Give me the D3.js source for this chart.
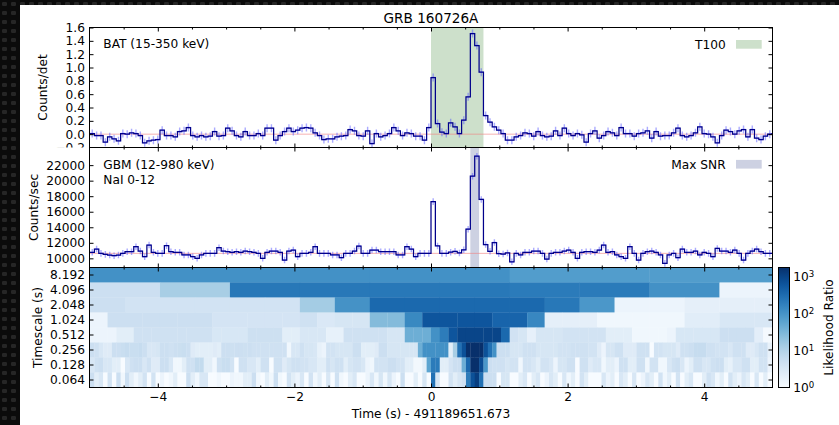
<!DOCTYPE html>
<html>
<head>
<meta charset="utf-8">
<script src="https://cdn.jsdelivr.net/npm/d3@7"></script>
<style>
  html, body { margin: 0; padding: 0; background: #fff; }
  svg { display: block; }
  text { font-family: "DejaVu Sans", sans-serif; }
</style>
</head>
<body>
<svg id="fig" width="839" height="425"></svg>
<script>
// ---------------- light curves (0.064 s bins, bin k starts at k*0.064 s) ----------------
const binWidth = 0.064;
const firstBin = -79;

// BAT 15-350 keV, counts/det
const batCounts = [
  0.00, 0.01, -0.02, -0.02, -0.12, -0.04, -0.07, -0.10, 0.01, 0.00,
  0.02, 0.01, -0.02, -0.13, -0.10, -0.09, -0.08, 0.06, -0.02, -0.02,
  -0.04, 0.04, 0.05, 0.10, -0.02, -0.04, -0.02, -0.04, -0.03, 0.04,
  -0.03, -0.02, 0.09, 0.05, -0.02, -0.04, 0.04, -0.02, -0.02, 0.01,
  -0.02, 0.09, 0.09, -0.09, -0.02, 0.04, 0.09, 0.04, 0.06, 0.09,
  0.10, 0.09, 0.02, -0.02, -0.08, -0.07, -0.07, -0.04, -0.03, -0.02,
  0.07, 0.05, -0.02, -0.03, 0.05, -0.14, 0.01, -0.04, -0.02, 0.01,
  0.10, 0.05, -0.02, 0.02, 0.01, -0.03, -0.03, -0.09, 0.10, 0.85,
  0.16, 0.03, 0.01, 0.17, 0.11, 0.01, 0.21, 0.56, 1.51, 1.33,
  0.93, 0.28, 0.18, 0.11, 0.06, 0.01, -0.09, -0.09, -0.04, -0.02,
  0.02, 0.01, -0.03, 0.04, -0.02, -0.04, -0.03, 0.05, -0.02, 0.09,
  0.01, -0.02, 0.01, -0.01, -0.12, 0.01, 0.05, -0.06, -0.02, 0.04,
  0.02, -0.02, 0.10, 0.01, 0.01, -0.03, 0.01, 0.02, 0.05, -0.06,
  0.04, -0.03, -0.02, -0.02, 0.02, 0.09, -0.02, -0.04, -0.02, 0.02,
  0.11, 0.01, 0.00, -0.04, -0.13, -0.02, 0.06, 0.04, 0.00, 0.05,
  0.07, -0.04, 0.07, -0.06, -0.08, -0.03, 0.00, 0.01
];
const batError = 0.06;
const batBackground = 0.0;

// GBM NaI 0-12, 12-980 keV, counts/sec
const gbmCounts = [
  10770, 10770, 11200, 10640, 10510, 10420, 10340, 10420, 10640, 10850,
  10850, 11500, 10940, 10210, 11710, 10770, 10640, 10640, 11630, 10850,
  10770, 10770, 10430, 10430, 10210, 10000, 10430, 10640, 10640, 10640,
  11370, 10940, 10850, 10770, 10850, 10770, 10940, 10850, 10770, 10640,
  10000, 10770, 10940, 10940, 10770, 9780, 10940, 11070, 10210, 10640,
  10640, 10770, 11500, 10640, 10640, 10640, 10430, 10430, 10080, 10640,
  10640, 10940, 11580, 10640, 10640, 11070, 11070, 10850, 10850, 10850,
  10850, 10430, 10430, 11500, 11200, 10210, 10640, 10640, 10640, 17300,
  11600, 10640, 10640, 10790, 10900, 10700, 11100, 13750, 20580, 23150,
  17580, 11780, 10900, 12030, 10600, 10550, 10700, 9560, 10640, 10430,
  10770, 10770, 10940, 10940, 10640, 9910, 10640, 10770, 10770, 10940,
  11070, 10770, 10000, 10770, 10850, 10850, 10770, 11070, 11710, 10770,
  10850, 10430, 10210, 10000, 11500, 10640, 9780, 10640, 10850, 10940,
  10770, 10430, 9350, 10430, 10640, 10080, 11200, 10770, 10770, 10940,
  10430, 10770, 10640, 10210, 11280, 10940, 10940, 10770, 11070, 10640,
  9780, 10640, 10940, 11200, 10850, 10640, 10640, 10640
];
const gbmError = 420;
const gbmBackground = 10640;

const t100Interval = [0.0, 0.768];
const maxSnrInterval = [0.576, 0.704];

// ---------------- likelihood-ratio map ----------------
const timescales = ["8.192", "4.096", "2.048", "1.024", "0.512", "0.256", "0.128", "0.064"];
const heatSteps = [2.048, 1.024, 0.512, 0.256, 0.128, 0.064, 0.064, 0.064];
const heatStart = -4.992;

const lr8192 = [110, 110, 110, 75, 75];
const lr4096 = [5, 13, 230, 230, 230, 230, 210, 210, 108, 1.5];
const lr2048 = [5, 4, 4, 4, 4, 4, 14, 105, 350, 350, 350, 350, 350, 230, 90, 1.5, 1.5, 2.0, 2.0, 2.0];
const lr1024 = [
  1.5, 5, 5, 5, 5, 5, 5, 3.8, 3.8, 3.8, 3.8, 3.8, 4.5, 3, 3.5, 3.5, 27, 27, 140, 620,
  620, 620, 620, 400, 400, 145, 2, 2, 2, 1.3, 1.3, 1.3, 1.3, 1.3, 2.3, 2.3, 3.2, 3.2, 3.2, 3.2
];
const lr512 = [
  1.5, 1.5, 1.5, 2.2, 2.2, 4.5, 4.5, 4.5, 4.5, 4.5, 4.5, 4.5, 4.5, 4.5, 3.3, 3.3, 3.3, 3.3, 4.8, 4.8,
  4.8, 4.8, 2.2, 2.2, 3.2, 3.2, 3.2, 1.8, 1.8, 4.5, 4.5, 4.5, 4.5, 4.5, 3.5, 3.5, 42, 42, 42, 108,
  200, 620, 1000, 1000, 1000, 1000, 1000, 350, 4.2, 3.5, 1.9, 3.5, 3.5, 3.5, 4, 4, 4, 4, 4, 2.2,
  2.2, 2.2, 1.3, 1.3, 1.3, 1.3, 1.5, 3.3, 3.3, 3.3, 3.3, 3.3, 5, 5, 5, 5, 2.1, 1.1, 1.1
];
const lr256 = [
  5, 4.5, 3.2, 2.5, 2.5, 5, 5, 5.5, 6, 5.5,
  5.5, 6, 5, 3.2, 3.2, 3.5, 5, 5, 4.5, 5,
  5.2, 5.5, 5, 2.5, 2.2, 2.2, 2.2, 2.2, 2.5, 2.2,
  5, 5, 4.8, 5, 5, 4.8, 5, 4.5, 4.5, 4.5,
  4.5, 4.5, 4.5, 4.5, 4.5, 1.3, 3.2, 3.2, 4.5, 3.5,
  3.5, 3.2, 1.8, 1.5, 4, 4, 3.5, 3.5, 3.5, 3.5,
  5, 5, 2.2, 2.2, 2.2, 2.5, 5, 5, 3.5, 3.5,
  3.5, 3.5, 3.5, 3.5, 3.5, 42, 108, 108, 108, 108,
  108, 108, 2.2, 13, 275, 700, 1800, 1800, 1800, 1800,
  700, 275, 108, 5, 5, 5, 3.5, 3.5, 3.5, 4.5,
  4.5, 4.5, 3.5, 3.5, 3.5, 3.5, 3.5, 4, 4, 4,
  4.5, 4.5, 4.5, 4.5, 4, 4, 2.5, 1.5, 3.5, 3.5,
  4.5, 4.5, 2.5, 2.5, 2.5, 4.5, 4.5, 4.5, 1.0, 4,
  4, 3.5, 3.5, 3.5, 2.5, 4.5, 4.5, 5, 6, 6,
  6, 4.5, 4.5, 4, 4, 4, 3.2, 4.5, 4.5, 4.5,
  2.5, 2.5, 3.2, 4.5, 4.5, 1.8, 3.2
];
const lr128 = [
  3.2, 4.5, 5, 3.2, 3.2, 2.2, 2.2, 1.0, 3.2, 4.5,
  5, 5, 3.2, 4.5, 2.5, 2.5, 5, 5, 3.2, 1.3,
  1.3, 2.2, 4.5, 4.5, 6.5, 6.5, 2.2, 2.2, 1.3, 4.5,
  5.5, 5.5, 4, 1.0, 4.5, 4.5, 3.2, 3.2, 2.2, 4.5,
  4.5, 1.0, 4.5, 4.5, 2.5, 3.5, 4.5, 4.5, 4, 4,
  3.2, 3.2, 2.2, 2.2, 4.5, 3.5, 4.5, 4.5, 2.2, 3.5,
  4, 4, 3.2, 1.5, 1.3, 4, 4, 4, 5, 5,
  4, 4, 2.2, 2.2, 1.2, 1.2, 2.2, 60, 210, 210,
  2.2, 2.2, 3.8, 5, 5, 42, 350, 1800, 1800, 800,
  90, 5, 4.5, 4.5, 4.5, 3.5, 4, 4, 1.3, 4,
  4, 3.2, 2.2, 4, 4, 3.2, 1.5, 3.5, 3.5, 4.5,
  4.5, 1.0, 4.5, 4.5, 2.5, 3.2, 3.2, 1.3, 2.2, 2.2,
  1.5, 4.5, 4.5, 2.2, 2.2, 4.5, 4.5, 1.3, 4, 4,
  1.3, 1.3, 3.2, 4.5, 5, 3.2, 1.5, 2.2, 4.5, 4.5,
  3.2, 3.2, 4.5, 5, 5, 2.2, 1.8, 3.2, 3.2, 4.5,
  4.5, 2.2, 2.2, 4, 4, 1.5, 3.2
];
const lr064 = [
  5, 2.2, 3.2, 1.0, 4, 1.0, 5, 1.3, 5, 2.2,
  1.3, 2.2, 4, 1.0, 4, 1.0, 1.5, 1.0, 1.3, 2.2,
  1.0, 1.0, 5, 2.2, 1.3, 3.2, 3.2, 1.0, 1.0, 1.3,
  1.0, 1.0, 1.5, 1.3, 1.3, 2.2, 2.2, 5, 1.3, 1.0,
  2.2, 1.3, 5, 1.3, 1.0, 4, 2.2, 1.5, 3.2, 1.0,
  4, 1.3, 2.2, 1.0, 3.2, 1.0, 4.5, 1.3, 1.0, 2.2,
  3.2, 1.0, 1.0, 1.5, 3.2, 1.3, 3.5, 1.3, 3.5, 1.5,
  1.0, 5, 1.0, 1.0, 2.2, 1.0, 3.5, 1.0, 275, 3.5,
  1.0, 1.0, 4, 2.2, 3.5, 4.5, 200, 700, 1200, 275,
  5, 5, 5, 1.0, 3.5, 3.5, 1.0, 1.0, 2.2, 3.2,
  1.0, 2.2, 3.2, 1.0, 1.5, 3.2, 2.2, 1.0, 3.2, 1.3,
  2.2, 1.0, 4, 2.2, 1.0, 1.0, 1.0, 3.2, 1.5, 2.2,
  1.0, 3.2, 2.2, 1.0, 3.2, 1.0, 1.5, 3.2, 2.2, 1.0,
  4, 1.3, 2.2, 1.0, 4, 1.0, 2.2, 3.2, 1.0, 1.0,
  2.2, 4.5, 3.2, 1.3, 2.2, 1.0, 4, 2.2, 1.5, 3.2,
  2.2, 1.0, 3.2, 1.0, 2.2, 1.0, 1.3
];
const lrRows = [lr8192, lr4096, lr2048, lr1024, lr512, lr256, lr128, lr064];
const lrMax = 1800;

const batTicks = [-0.2, 0.0, 0.2, 0.4, 0.6, 0.8, 1.0, 1.2, 1.4, 1.6];
const gbmTicks = [10000, 12000, 14000, 16000, 18000, 20000, 22000];
const timeMajorTicks = [-4, -2, 0, 2, 4];
const timeMinorTicks = [-4.5, -3.5, -3, -2.5, -1.5, -1, -0.5, 0.5, 1, 1.5, 2.5, 3, 3.5, 4.5];
const colorbarTicks = [1, 10, 100, 1000];

// ---------------- layout ----------------
const W = 839, H = 425;
const L = 89.5, R = 772.5;
const batBox = [27.5, 147.5], gbmBox = [147.5, 267.5], mapBox = [267.5, 387.5];
const FS = 12.2;

const svg = d3.select("#fig");
const defs = svg.append("defs");

// dark dotted frame around the white figure
const pat = defs.append("pattern").attr("id", "frameDots")
  .attr("width", 9).attr("height", 9).attr("patternUnits", "userSpaceOnUse");
pat.append("rect").attr("width", 9).attr("height", 9).attr("fill", "#0b0b0b");
pat.append("rect").attr("x", 2).attr("y", 2).attr("width", 5).attr("height", 4)
  .attr("rx", 1.2).attr("fill", "#262626");
svg.append("rect").attr("width", W).attr("height", H).attr("fill", "url(#frameDots)");
svg.append("rect").attr("x", 20).attr("y", 5).attr("width", W - 20).attr("height", H - 5).attr("fill", "#fff");

const x = d3.scaleLinear().domain([-5, 5]).range([L, R]);
const yBat = d3.scaleLinear().domain([-0.2, 1.6]).range([batBox[1], batBox[0]]);
const yGbm = d3.scaleLinear().domain([8820, 24270]).range([gbmBox[1], gbmBox[0]]);
const yMap = d3.scaleBand().domain(timescales).range(mapBox);
const color = d3.scaleSequentialLog(d3.interpolateBlues).domain([1, lrMax]);

function clipRect(id, y0, y1) {
  defs.append("clipPath").attr("id", id).append("rect")
    .attr("x", L).attr("y", y0).attr("width", R - L).attr("height", y1 - y0);
  return `url(#${id})`;
}

function styleAxis(g) {
  g.select(".domain").remove();
  g.attr("font-family", null).attr("font-size", null);
  g.selectAll("text").attr("font-size", FS).attr("fill", "#000");
  g.selectAll("line").attr("stroke", "#000").attr("stroke-width", 1);
}

function timeTicks(g, box, withLabels) {
  const bottomMajor = d3.axisBottom(x).tickValues(timeMajorTicks).tickSize(-4)
    .tickPadding(5).tickFormat(withLabels ? d3.format("d") : "");
  g.append("g").attr("transform", `translate(0,${box[1]})`).call(bottomMajor).call(styleAxis);
  g.append("g").attr("transform", `translate(0,${box[1]})`)
    .call(d3.axisBottom(x).tickValues(timeMinorTicks).tickSize(-2).tickFormat("")).call(styleAxis);
  g.append("g").attr("transform", `translate(0,${box[0]})`)
    .call(d3.axisTop(x).tickValues(timeMajorTicks).tickSize(-4).tickFormat("")).call(styleAxis);
  g.append("g").attr("transform", `translate(0,${box[0]})`)
    .call(d3.axisTop(x).tickValues(timeMinorTicks).tickSize(-2).tickFormat("")).call(styleAxis);
}

function valueTicks(g, scale, values, fmt) {
  g.append("g").attr("transform", `translate(${L},0)`)
    .call(d3.axisLeft(scale).tickValues(values).tickSize(-4).tickPadding(4.5).tickFormat(fmt))
    .call(styleAxis);
  g.append("g").attr("transform", `translate(${R},0)`)
    .call(d3.axisRight(scale).tickValues(values).tickSize(-4).tickFormat(""))
    .call(styleAxis);
}

function frame(box) {
  svg.append("rect").attr("x", L).attr("y", box[0]).attr("width", R - L).attr("height", box[1] - box[0])
    .attr("fill", "none").attr("stroke", "#000").attr("stroke-width", 1);
}

function lightCurve(g, counts, err, bg, y) {
  const start = i => (firstBin + i) * binWidth;
  const pts = counts.map((c, i) => [start(i), c]);
  pts.push([start(counts.length), counts[counts.length - 1]]);

  g.append("line").attr("x1", L).attr("x2", R).attr("y1", y(bg)).attr("y2", y(bg))
    .attr("stroke", "#f08080").attr("stroke-opacity", 0.6).attr("stroke-width", 1);

  const eb = g.append("g").attr("stroke", "#5a5aff").attr("stroke-opacity", 0.5).attr("stroke-width", 1.4);
  counts.forEach((c, i) => {
    const xc = x(start(i) + binWidth / 2);
    eb.append("line").attr("x1", xc).attr("x2", xc).attr("y1", y(c - err)).attr("y2", y(c + err));
    eb.append("line").attr("x1", x(start(i))).attr("x2", x(start(i + 1))).attr("y1", y(c)).attr("y2", y(c));
  });

  const line = d3.line().x(d => x(d[0])).y(d => y(d[1])).curve(d3.curveStepAfter);
  g.append("path").attr("d", line(pts)).attr("fill", "none")
    .attr("stroke", "#00008b").attr("stroke-width", 1.25);
}

function legendItem(label, yMid, fill) {
  svg.append("text").attr("x", 725.7).attr("y", yMid).attr("dy", "0.36em")
    .attr("text-anchor", "end").attr("font-size", FS).text(label);
  svg.append("rect").attr("x", 736).attr("y", yMid - 4.3).attr("width", 25.7).attr("height", 8.7)
    .attr("fill", fill);
}

// ---------------- BAT panel ----------------
const batG = svg.append("g");
const batClip = batG.append("g").attr("clip-path", clipRect("clipBat", batBox[0], batBox[1]));
batClip.append("rect").attr("x", x(t100Interval[0])).attr("width", x(t100Interval[1]) - x(t100Interval[0]))
  .attr("y", batBox[0]).attr("height", batBox[1] - batBox[0]).attr("fill", "#cde0cb");
lightCurve(batClip, batCounts, batError, batBackground, yBat);
timeTicks(batG, batBox, false);
// the lowest value label is cut where the GBM panel begins
defs.append("clipPath").attr("id", "clipBatLabels").append("rect")
  .attr("x", 0).attr("y", 0).attr("width", W).attr("height", batBox[1]);
valueTicks(batG.append("g").attr("clip-path", "url(#clipBatLabels)"), yBat, batTicks, d3.format(".1f"));
frame(batBox);
svg.append("text").attr("x", 103.3).attr("y", 48.3).attr("font-size", FS).text("BAT (15-350 keV)");
legendItem("T100", 44.3, "#cde0cb");

// ---------------- GBM panel ----------------
const gbmG = svg.append("g");
const gbmClip = gbmG.append("g").attr("clip-path", clipRect("clipGbm", gbmBox[0], gbmBox[1]));
gbmClip.append("rect").attr("x", x(maxSnrInterval[0])).attr("width", x(maxSnrInterval[1]) - x(maxSnrInterval[0]))
  .attr("y", gbmBox[0]).attr("height", gbmBox[1] - gbmBox[0]).attr("fill", "#cdd1e2");
lightCurve(gbmClip, gbmCounts, gbmError, gbmBackground, yGbm);
timeTicks(gbmG, gbmBox, false);
valueTicks(gbmG, yGbm, gbmTicks, d3.format("d"));
frame(gbmBox);
svg.append("text").attr("x", 103.3).attr("y", 168.7).attr("font-size", FS).text("GBM (12-980 keV)");
svg.append("text").attr("x", 103.3).attr("y", 183.7).attr("font-size", FS).text("NaI 0-12");
legendItem("Max SNR", 164.2, "#cdd1e2");

// ---------------- likelihood map ----------------
const mapG = svg.append("g");
const mapClip = mapG.append("g").attr("clip-path", clipRect("clipMap", mapBox[0], mapBox[1]));
timescales.forEach((ts, r) => {
  const step = heatSteps[r];
  const left = i => (i === 0 ? x.domain()[0] : heatStart + i * step);
  mapClip.append("g").selectAll("rect").data(lrRows[r]).join("rect")
    .attr("x", (d, i) => x(left(i)))
    .attr("width", (d, i) => x(heatStart + (i + 1) * step) - x(left(i)) + 0.3)
    .attr("y", yMap(ts))
    .attr("height", yMap.bandwidth() + 0.3)
    .attr("fill", d => color(d));
});
timeTicks(mapG, mapBox, true);
valueTicks(mapG, yMap, timescales, d => d);
frame(mapBox);

// colour bar
const cb = { x: 778.5, w: 11 };
const yCb = d3.scaleLog().domain([1, lrMax]).range([mapBox[1], mapBox[0]]);
const grad = defs.append("linearGradient").attr("id", "cbGrad")
  .attr("x1", 0).attr("y1", 1).attr("x2", 0).attr("y2", 0);
d3.range(0, 1.0001, 0.05).forEach(t => {
  grad.append("stop").attr("offset", t).attr("stop-color", d3.interpolateBlues(t));
});
svg.append("rect").attr("x", cb.x).attr("y", mapBox[0]).attr("width", cb.w).attr("height", mapBox[1] - mapBox[0])
  .attr("fill", "url(#cbGrad)").attr("stroke", "#000").attr("stroke-width", 1);
const cbLabels = svg.append("g");
colorbarTicks.forEach(v => {
  const t = cbLabels.append("text").attr("x", 793.3).attr("y", yCb(v)).attr("dy", "0.36em")
    .attr("font-size", FS);
  t.append("tspan").text("10");
  t.append("tspan").attr("dy", "-0.5em").attr("font-size", 8.6).text(Math.round(Math.log10(v)));
});
svg.append("text").attr("transform", `translate(828.3,327.5) rotate(-90)`).attr("dy", "0.36em")
  .attr("text-anchor", "middle").attr("font-size", FS).text("Likelihood Ratio");

// ---------------- titles and axis labels ----------------
svg.append("text").attr("x", (L + R) / 2).attr("y", 22.7).attr("text-anchor", "middle")
  .attr("font-size", 13.6).text("GRB 160726A");
svg.append("text").attr("x", (L + R) / 2).attr("y", 418.3).attr("text-anchor", "middle")
  .attr("font-size", FS).text("Time (s) - 491189651.673");
[["Counts/det", 42.8, batBox], ["Counts/sec", 33.8, gbmBox], ["Timescale (s)", 37.5, mapBox]].forEach(([label, cx, box]) => {
  svg.append("text").attr("transform", `translate(${cx},${(box[0] + box[1]) / 2}) rotate(-90)`)
    .attr("dy", "0.36em").attr("text-anchor", "middle").attr("font-size", FS).text(label);
});
</script>
</body>
</html>
